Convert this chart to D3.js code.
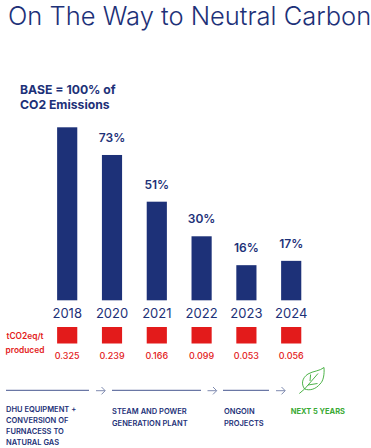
<!DOCTYPE html>
<html>
<head>
<meta charset="utf-8">
<script src="https://cdn.jsdelivr.net/npm/d3@7"></script>
<style>
  html, body { margin: 0; padding: 0; background: #fff; }
  text { font-family: "Inter", "Open Sans", sans-serif; }
</style>
</head>
<body>
<div id="chart"></div>
<script>
// values
const years = ["2018", "2020", "2021", "2022", "2023", "2024"];
const barValues = [100, 84, 57, 37, 20.3, 22.8]; // drawn height, % of the 2018 bar
const pctLabels = ["", "73%", "51%", "30%", "16%", "17%"];
const intensity = ["0.325", "0.239", "0.166", "0.099", "0.053", "0.056"];
const steps = [
  {lines: ["DHU EQUIPMENT +", "CONVERSION OF", "FURNACESS TO", "NATURAL GAS"]},
  {lines: ["STEAM AND POWER", "GENERATION PLANT"]},
  {lines: ["ONGOIN", "PROJECTS"]}
];

const width = 371, height = 448;
const navy = "#1d3178", red = "#e31b1b", green = "#3aaa35";

const svg = d3.select("#chart").append("svg")
  .attr("width", width)
  .attr("height", height);

// title
svg.append("text")
  .attr("x", 8).attr("y", 24.5)
  .attr("fill", navy)
  .style("font-size", "25.5px")
  .style("font-weight", 300)
  .text("On The Way to Neutral Carbon");

svg.append("text").attr("x", 20).attr("y", 93.5)
  .attr("fill", navy).style("font-size", "12.2px").style("font-weight", 700)
  .text("BASE = 100% of");
svg.append("text").attr("x", 20).attr("y", 109)
  .attr("fill", navy).style("font-size", "12.2px").style("font-weight", 700)
  .text("CO2 Emissions");

// X scale
const x = d3.scaleBand()
  .domain(years)
  .range([44.8, 313.6])
  .paddingInner(0.55)
  .paddingOuter(0.275);

// Y scale
const y = d3.scaleLinear()
  .domain([0, 100])
  .range([300.3, 127.3]);

// Bars
svg.selectAll("rect.bar")
  .data(years)
  .join("rect")
  .attr("class", "bar")
  .attr("x", d => x(d))
  .attr("y", (d, i) => y(barValues[i]))
  .attr("width", x.bandwidth())
  .attr("height", (d, i) => y(0) - y(barValues[i]))
  .attr("fill", navy);

// percent labels
svg.selectAll("text.pct")
  .data(years)
  .join("text")
  .attr("class", "pct")
  .attr("x", d => x(d) + x.bandwidth() / 2)
  .attr("y", (d, i) => y(barValues[i]) - 13)
  .attr("text-anchor", "middle")
  .attr("fill", navy)
  .style("font-size", "12px")
  .style("font-weight", 600)
  .text((d, i) => pctLabels[i]);

// axis labels, no line
const axis = svg.append("g")
  .attr("transform", "translate(0,300)")
  .call(d3.axisBottom(x).tickSize(0).tickPadding(9));
axis.select(".domain").remove();
axis.selectAll("text")
  .attr("fill", navy)
  .style("font-size", "13px")
  .style("font-family", "Inter")
  .style("font-weight", 400);

// red squares
svg.selectAll("rect.red")
  .data(years)
  .join("rect")
  .attr("class", "red")
  .attr("x", d => x(d))
  .attr("y", 327)
  .attr("width", x.bandwidth())
  .attr("height", 16.5)
  .attr("fill", red);

svg.selectAll("text.val")
  .data(years)
  .join("text")
  .attr("class", "val")
  .attr("x", d => x(d) + x.bandwidth() / 2)
  .attr("y", 358.5)
  .attr("text-anchor", "middle")
  .attr("fill", red)
  .style("font-size", "9px")
  .style("font-weight", 500)
  .text((d, i) => intensity[i]);

svg.append("text").attr("x", 25).attr("y", 339)
  .attr("text-anchor", "middle").attr("fill", red)
  .style("font-size", "8.4px").style("font-weight", 600).text("tCO2eq/t");
svg.append("text").attr("x", 25).attr("y", 353)
  .attr("text-anchor", "middle").attr("fill", red)
  .style("font-size", "8.4px").style("font-weight", 600).text("produced");

// timeline
const stepX = [[6, 89], [112, 201], [223, 269]];
const textX = [6, 112, 224];
const textY = [411.7, 414.3, 414.3];
const arrowX = [96, 207.5, 276];

stepX.forEach((s, i) => {
  svg.append("line")
    .attr("x1", s[0]).attr("x2", s[1])
    .attr("y1", 390.3).attr("y2", 390.3)
    .attr("stroke", "#45568f").attr("stroke-width", 1);

  svg.append("path")
    .attr("d", `M${arrowX[i]},390.7h9M${arrowX[i] + 5.5},387l3.7,3.7l-3.7,3.7`)
    .attr("fill", "none")
    .attr("stroke", "#7f8bb0")
    .attr("stroke-width", 1);

  steps[i].lines.forEach((t, j) => {
    svg.append("text")
      .attr("x", textX[i])
      .attr("y", textY[i] + j * 11.25)
      .attr("fill", navy)
      .style("font-size", "7.5px")
      .style("font-weight", 600)
      .text(t);
  });
});

svg.append("text").attr("x", 290.7).attr("y", 414.3)
  .attr("fill", green).style("font-size", "7.5px").style("font-weight", 700)
  .text("NEXT 5 YEARS");

// leaf
const leaf = svg.append("g")
  .attr("fill", "none")
  .attr("stroke", green)
  .attr("stroke-width", 0.9);
leaf.append("path").attr("d", "M304.6,389C301,384 302,378 308,374C313,371 320,371 324,367.5C324.5,374 323.5,381 320,384C316,389 310,391 304.6,389Z");
leaf.append("path").attr("d", "M299.3,393.5L304.6,389L318,373.5M310.6,374.5L310,381M317.5,383.5L308,385");
</script>
</body>
</html>
